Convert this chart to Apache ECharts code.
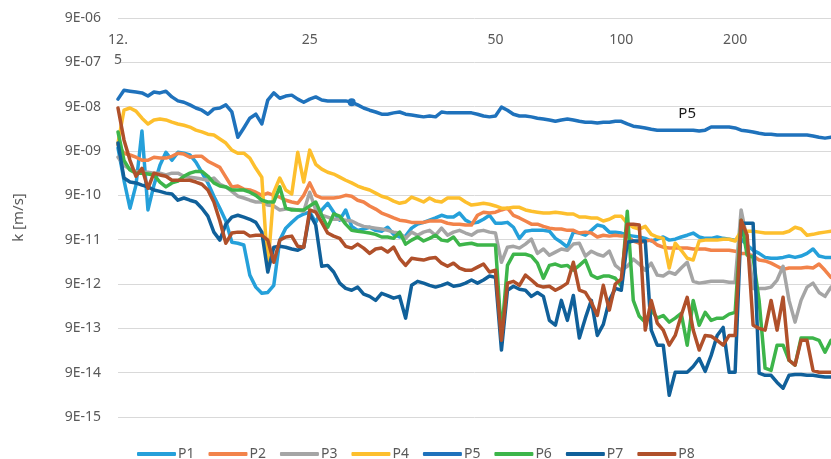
<!DOCTYPE html>
<html>
<head>
<meta charset="utf-8">
<script src="https://cdn.jsdelivr.net/npm/echarts@6/dist/echarts.min.js"></script>
<style>
  html, body { margin: 0; padding: 0; background: #fff; }
  #myChart { width: 831px; height: 459px; }
</style>
</head>
<body>
<div id="myChart"></div>
<script>
// values are exponents: k = 9 x 10^value  [m/s]
var seriesNames = ['P1', 'P2', 'P3', 'P4', 'P5', 'P6', 'P7', 'P8'];
var colors = ['#25a0da', '#f2834a', '#a5a5a5', '#fdbf2d', '#1f72bc', '#3db54a', '#10609a', '#b0502a'];

var xTickIndex = [0, 32, 63, 84, 103];
var xTickLabels = ['12.5', '25', '50', '100', '200'];
var yTicks = [-15, -14, -13, -12, -11, -10, -9, -8, -7, -6];

var p1 = [-8.93, -9.66, -10.29, -9.77, -8.55, -10.33, -9.77, -9.32, -9.03, -9.21,
    -9.03, -9.05, -9.09, -9.25, -9.48, -9.72, -10.02, -10.29, -10.58, -11.06,
    -11.08, -11.12, -11.80, -12.07, -12.21, -12.19, -12.03, -11.01, -10.74, -10.61,
    -10.49, -10.42, -10.38, -10.61, -10.33, -10.18, -10.38, -10.56, -10.33, -10.70,
    -10.79, -10.76, -10.72, -10.79, -10.81, -10.72, -10.88, -10.94, -10.92, -10.74,
    -10.65, -10.61, -10.56, -10.51, -10.45, -10.49, -10.49, -10.40, -10.56, -10.63,
    -10.61, -10.54, -10.45, -10.63, -10.63, -10.61, -10.72, -10.97, -10.81, -10.79,
    -10.79, -10.79, -10.81, -10.97, -11.06, -11.17, -10.83, -10.85, -10.90, -10.79,
    -10.67, -10.70, -10.83, -10.83, -10.85, -10.90, -10.92, -10.94, -10.97, -11.03,
    -10.99, -10.94, -11.01, -10.99, -10.94, -10.90, -10.85, -10.94, -10.97, -10.97,
    -10.94, -10.97, -10.99, -11.01, -10.99, -11.12, -11.24, -11.31, -11.40, -11.42,
    -11.42, -11.40, -11.37, -11.40, -11.37, -11.31, -11.21, -11.37, -11.40, -11.40];

var p2 = [-8.86, -9.05, -9.09, -9.14, -9.21, -9.21, -9.14, -9.16, -9.16, -9.12,
    -9.05, -9.07, -9.14, -9.12, -9.12, -9.23, -9.30, -9.37, -9.59, -9.81,
    -9.79, -9.86, -9.88, -9.93, -10.00, -9.95, -10.00, -10.04, -10.11, -10.15,
    -10.18, -10.00, -9.72, -10.00, -10.06, -10.06, -10.06, -10.04, -10.00, -10.02,
    -10.11, -10.15, -10.24, -10.31, -10.40, -10.45, -10.51, -10.56, -10.58, -10.61,
    -10.61, -10.61, -10.58, -10.58, -10.58, -10.63, -10.65, -10.65, -10.67, -10.67,
    -10.45, -10.38, -10.40, -10.38, -10.33, -10.29, -10.45, -10.51, -10.58, -10.65,
    -10.65, -10.70, -10.74, -10.76, -10.76, -10.79, -10.79, -10.85, -10.83, -10.85,
    -10.94, -10.90, -10.92, -10.90, -10.92, -10.92, -11.03, -11.08, -11.03, -11.01,
    -11.12, -11.17, -11.19, -11.19, -11.19, -11.19, -11.21, -11.21, -11.21, -11.24,
    -11.24, -11.24, -11.24, -11.26, -11.31, -11.31, -11.37, -11.46, -11.48, -11.53,
    -11.60, -11.67, -11.64, -11.64, -11.64, -11.62, -11.64, -11.55, -11.69, -11.85];

var p3 = [-9.14, -9.32, -9.41, -9.46, -9.48, -9.48, -9.50, -9.50, -9.54, -9.50,
    -9.50, -9.57, -9.59, -9.61, -9.63, -9.66, -9.61, -9.75, -9.81, -9.91,
    -10.02, -10.06, -10.11, -10.15, -10.15, -10.22, -10.24, -10.33, -10.31, -10.31,
    -10.33, -10.36, -9.93, -10.33, -10.45, -10.49, -10.54, -10.54, -10.56, -10.58,
    -10.65, -10.70, -10.72, -10.74, -10.76, -10.79, -10.83, -10.85, -10.97, -10.83,
    -10.90, -10.83, -10.79, -10.90, -10.74, -10.90, -10.83, -10.79, -10.85, -10.90,
    -10.81, -10.79, -10.83, -10.85, -11.51, -11.17, -11.15, -11.19, -11.10, -10.99,
    -11.31, -11.21, -11.35, -11.28, -11.21, -11.24, -11.10, -11.08, -11.37, -11.26,
    -11.33, -11.37, -11.26, -11.58, -11.69, -11.60, -11.44, -11.55, -11.69, -11.53,
    -11.80, -11.82, -11.73, -11.78, -11.64, -11.51, -11.94, -11.98, -11.96, -11.94,
    -11.94, -11.94, -11.96, -11.96, -10.33, -11.01, -12.10, -12.10, -12.10, -12.07,
    -11.91, -11.60, -12.37, -12.86, -12.37, -12.07, -11.98, -12.19, -12.28, -12.07];

var p4 = [-8.82, -8.08, -8.03, -8.10, -8.26, -8.39, -8.30, -8.28, -8.30, -8.35,
    -8.39, -8.42, -8.46, -8.53, -8.57, -8.62, -8.64, -8.73, -8.82, -8.98,
    -9.05, -9.05, -9.16, -9.39, -9.59, -11.64, -9.93, -9.61, -9.88, -9.97,
    -9.03, -9.70, -8.98, -9.30, -9.41, -9.48, -9.52, -9.59, -9.66, -9.72,
    -9.79, -9.84, -9.88, -9.95, -10.02, -10.06, -10.13, -10.18, -10.15, -10.04,
    -10.09, -10.15, -10.06, -10.13, -10.15, -10.06, -10.06, -10.06, -10.15, -10.22,
    -10.20, -10.18, -10.20, -10.24, -10.29, -10.29, -10.27, -10.27, -10.33, -10.36,
    -10.38, -10.40, -10.40, -10.38, -10.40, -10.42, -10.42, -10.49, -10.49, -10.51,
    -10.51, -10.58, -10.54, -10.47, -10.47, -10.63, -10.72, -10.76, -10.70, -10.88,
    -10.94, -10.97, -11.64, -11.08, -11.24, -11.42, -11.46, -11.03, -11.01, -11.01,
    -11.01, -10.99, -10.99, -11.03, -10.81, -10.81, -10.81, -10.83, -10.85, -10.85,
    -10.85, -10.85, -10.81, -10.72, -10.76, -10.90, -10.88, -10.85, -10.83, -10.81];

var p5 = [-7.83, -7.63, -7.65, -7.67, -7.69, -7.76, -7.67, -7.69, -7.65, -7.78,
    -7.87, -7.90, -7.96, -8.03, -8.08, -8.17, -8.05, -8.03, -7.96, -8.12,
    -8.69, -8.48, -8.26, -8.17, -8.39, -7.85, -7.69, -7.81, -7.76, -7.74,
    -7.83, -7.90, -7.83, -7.78, -7.85, -7.87, -7.87, -7.87, -7.87, -7.90,
    -7.96, -8.03, -8.08, -8.12, -8.17, -8.17, -8.14, -8.12, -8.17, -8.19,
    -8.21, -8.23, -8.21, -8.23, -8.12, -8.14, -8.14, -8.14, -8.14, -8.14,
    -8.17, -8.21, -8.23, -8.21, -8.01, -8.08, -8.17, -8.21, -8.21, -8.23,
    -8.26, -8.28, -8.30, -8.33, -8.30, -8.28, -8.30, -8.33, -8.35, -8.35,
    -8.37, -8.35, -8.35, -8.33, -8.33, -8.39, -8.44, -8.46, -8.48, -8.51,
    -8.53, -8.53, -8.53, -8.53, -8.53, -8.53, -8.53, -8.55, -8.53, -8.46,
    -8.46, -8.46, -8.46, -8.48, -8.53, -8.55, -8.57, -8.60, -8.62, -8.62,
    -8.64, -8.64, -8.64, -8.64, -8.64, -8.64, -8.66, -8.69, -8.71, -8.69];

var p6 = [-8.57, -9.21, -9.43, -9.50, -9.50, -9.52, -9.54, -9.70, -9.81, -9.72,
    -9.68, -9.57, -9.50, -9.46, -9.46, -9.57, -9.72, -9.79, -9.81, -9.88,
    -9.88, -9.88, -9.93, -10.00, -10.11, -10.15, -10.15, -9.81, -10.29, -10.33,
    -10.33, -10.33, -10.24, -10.15, -10.45, -10.72, -10.42, -10.47, -10.65, -10.79,
    -10.81, -10.83, -10.85, -10.88, -10.94, -10.94, -10.97, -10.83, -11.10, -11.01,
    -10.94, -11.03, -10.97, -10.90, -11.01, -11.03, -10.94, -11.12, -11.10, -11.08,
    -11.12, -11.12, -11.12, -11.12, -13.16, -11.58, -11.33, -11.33, -11.33, -11.37,
    -11.53, -11.87, -11.58, -11.55, -11.60, -11.58, -11.69, -11.58, -11.46, -11.80,
    -11.87, -11.82, -11.82, -11.87, -12.05, -10.36, -12.37, -12.73, -12.86, -12.59,
    -12.77, -12.71, -12.86, -12.77, -12.66, -13.38, -12.37, -12.93, -12.64, -12.82,
    -12.77, -12.77, -12.68, -12.64, -10.56, -11.35, -11.40, -12.37, -13.90, -13.95,
    -13.38, -13.38, -13.72, -13.83, -13.22, -13.22, -13.22, -13.27, -13.54, -13.27];

var p7 = [-8.82, -9.61, -9.70, -9.72, -9.77, -9.81, -9.88, -9.91, -9.95, -9.97,
    -10.11, -10.06, -10.11, -10.15, -10.29, -10.47, -10.83, -11.01, -10.65, -10.49,
    -10.45, -10.49, -10.54, -10.61, -10.83, -11.73, -11.17, -11.15, -11.17, -11.21,
    -11.24, -11.17, -10.42, -10.67, -11.60, -11.58, -11.73, -11.98, -12.10, -12.14,
    -12.07, -12.23, -12.28, -12.37, -12.21, -12.26, -12.32, -12.28, -12.77, -12.03,
    -11.94, -11.98, -12.03, -12.07, -12.03, -11.98, -12.05, -12.03, -11.98, -11.91,
    -11.98, -11.91, -11.82, -11.85, -13.49, -12.14, -12.05, -12.12, -12.14, -12.28,
    -12.19, -12.28, -12.82, -12.93, -12.37, -12.82, -12.26, -13.22, -12.77, -12.37,
    -13.16, -12.91, -12.37, -12.10, -12.14, -11.06, -11.03, -11.03, -11.03, -13.04,
    -13.38, -13.38, -14.51, -13.99, -13.99, -13.99, -13.86, -13.68, -13.97, -13.61,
    -13.16, -12.98, -13.99, -13.99, -10.63, -10.63, -10.63, -14.01, -14.06, -14.06,
    -14.22, -14.35, -14.06, -14.04, -14.04, -14.06, -14.06, -14.08, -14.10, -14.10];

var p8 = [-8.03, -8.75, -9.21, -9.57, -9.39, -9.84, -9.50, -9.54, -9.57, -9.66,
    -9.66, -9.66, -9.66, -9.70, -9.75, -9.88, -10.15, -10.58, -11.08, -10.85,
    -10.83, -10.83, -10.92, -10.90, -10.90, -11.01, -11.51, -11.01, -10.94, -10.92,
    -11.15, -11.17, -10.33, -10.38, -10.61, -10.85, -10.92, -10.97, -11.15, -11.19,
    -11.10, -11.19, -11.31, -11.21, -11.19, -11.28, -11.17, -11.42, -11.58, -11.42,
    -11.44, -11.46, -11.42, -11.40, -11.53, -11.60, -11.53, -11.64, -11.69, -11.69,
    -11.62, -11.55, -11.73, -11.69, -13.27, -11.98, -11.94, -12.03, -11.80, -11.91,
    -12.03, -12.07, -12.05, -12.14, -12.07, -11.98, -11.51, -12.14, -12.19, -12.41,
    -12.71, -12.03, -12.59, -12.00, -11.89, -10.65, -10.65, -10.67, -13.04, -12.37,
    -12.88, -13.04, -13.38, -13.16, -12.71, -12.30, -13.04, -13.49, -13.16, -13.18,
    -13.27, -13.38, -13.16, -13.16, -10.56, -10.90, -12.93, -13.00, -13.04, -12.37,
    -13.04, -12.30, -13.72, -13.83, -13.27, -13.27, -13.95, -13.99, -13.99, -13.99];

var seriesData = [p1, p2, p3, p4, p5, p6, p7, p8];

var categories = [];
for (var i = 0; i < p1.length; i++) {
    categories.push(String(i));
}

function yLabel(v) {
    var e = -v;
    return '9E-' + (e < 10 ? '0' + e : e);
}

var chart = echarts.init(document.getElementById('myChart'), null, {renderer: 'canvas'});

var series = seriesNames.map(function (name, idx) {
    var s = {
        name: name,
        type: 'line',
        data: seriesData[idx],
        symbol: 'none',
        smooth: false,
        lineStyle: {
            width: 3.5,
            color: colors[idx],
            cap: 'round',
            join: 'round'
        },
        itemStyle: {
            color: colors[idx]
        }
    };
    if (name === 'P5') {
        s.markPoint = {
            silent: true,
            data: [
                {
                    coord: ['39', p5[39]],
                    symbol: 'circle',
                    symbolSize: 8,
                    itemStyle: {color: colors[idx]},
                    label: {show: false}
                },
                {
                    coord: ['95', p5[95]],
                    symbol: 'circle',
                    symbolSize: 0,
                    label: {
                        show: true,
                        formatter: 'P5',
                        position: 'top',
                        distance: 9,
                        color: '#1a1a1a',
                        fontSize: 15,
                        fontFamily: 'Noto Sans'
                    }
                }
            ]
        };
    }
    return s;
});

chart.setOption({
    animation: false,
    color: colors,
    textStyle: {
        fontFamily: 'Noto Sans'
    },
    grid: {
        left: 118,
        right: 0,
        top: 18,
        bottom: 42,
        containLabel: false
    },
    legend: {
        data: seriesNames,
        left: 137,
        top: 447,
        padding: 0,
        icon: 'roundRect',
        itemWidth: 39,
        itemHeight: 4,
        itemGap: 14,
        textStyle: {
            color: '#595959',
            fontSize: 14,
            padding: [0, 0, 0, -3]
        }
    },
    xAxis: {
        type: 'category',
        position: 'top',
        boundaryGap: false,
        data: categories,
        axisLine: {show: false},
        axisTick: {show: false},
        splitLine: {show: false},
        axisLabel: {
            inside: true,
            margin: 12,
            color: '#595959',
            fontSize: 14,
            lineHeight: 20,
            interval: function (index) {
                return xTickIndex.indexOf(index) >= 0;
            },
            formatter: function (val) {
                var k = xTickIndex.indexOf(+val);
                if (k < 0) {
                    return '';
                }
                var t = xTickLabels[k];
                // narrow column: the long label wraps
                return t.length > 3 ? t.slice(0, 3) + '\n' + t.slice(3) : t;
            }
        }
    },
    yAxis: {
        type: 'value',
        min: yTicks[0],
        max: yTicks[yTicks.length - 1],
        interval: 1,
        name: 'k [m/s]',
        nameLocation: 'middle',
        nameGap: 92,
        nameTextStyle: {
            color: '#595959',
            fontSize: 15
        },
        axisLine: {show: false},
        axisTick: {show: false},
        axisLabel: {
            color: '#595959',
            fontSize: 14,
            margin: 17,
            formatter: yLabel
        },
        splitLine: {
            show: true,
            lineStyle: {
                color: '#d9d9d9',
                width: 1
            }
        }
    },
    series: series
});
</script>
</body>
</html>
